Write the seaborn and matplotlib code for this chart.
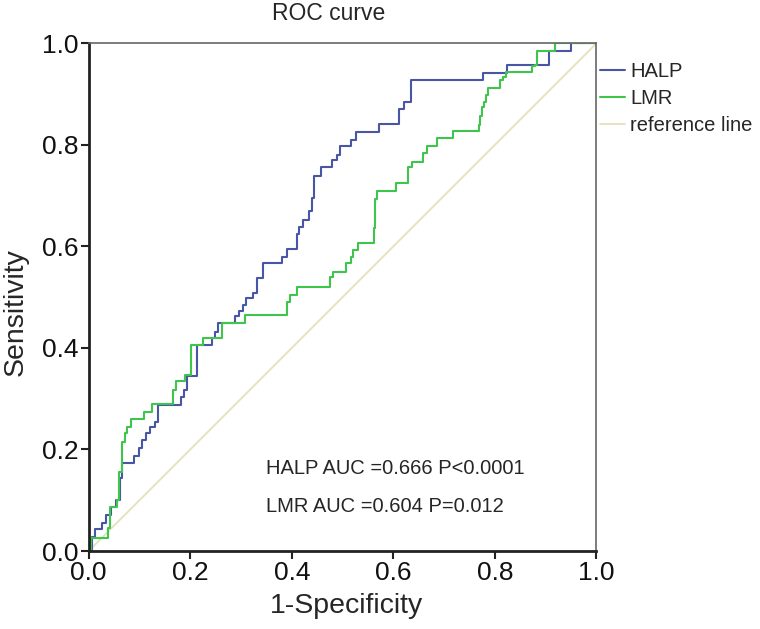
import pandas as pd
import seaborn as sns
import matplotlib.pyplot as plt

# ROC curve points (step curves)
halp_fpr = [0, 0.006, 0.012, 0.026, 0.035, 0.044, 0.054, 0.062, 0.066, 0.090, 0.099,
            0.105, 0.112, 0.121, 0.131, 0.136, 0.182, 0.188, 0.193, 0.213, 0.242,
            0.249, 0.255, 0.288, 0.297, 0.303, 0.310, 0.323, 0.331, 0.344, 0.380,
            0.391, 0.410, 0.415, 0.422, 0.433, 0.439, 0.444, 0.457, 0.480, 0.490,
            0.495, 0.516, 0.527, 0.571, 0.611, 0.621, 0.635, 0.776, 0.824, 0.907,
            0.950, 1.0]
halp_tpr = [0, 0.028, 0.043, 0.056, 0.071, 0.087, 0.100, 0.144, 0.173, 0.187, 0.203,
            0.219, 0.233, 0.245, 0.255, 0.288, 0.303, 0.317, 0.345, 0.406, 0.419,
            0.432, 0.449, 0.462, 0.473, 0.485, 0.499, 0.508, 0.537, 0.567, 0.580,
            0.594, 0.625, 0.639, 0.652, 0.669, 0.695, 0.738, 0.756, 0.770, 0.780,
            0.797, 0.810, 0.826, 0.841, 0.870, 0.885, 0.928, 0.942, 0.958, 0.986,
            1.0, 1.0]

lmr_fpr = [0, 0.0055, 0.038, 0.042, 0.055, 0.060, 0.065, 0.072, 0.075, 0.083, 0.108,
           0.124, 0.166, 0.172, 0.190, 0.202, 0.226, 0.262, 0.308, 0.391, 0.397,
           0.410, 0.475, 0.482, 0.507, 0.516, 0.521, 0.531, 0.561, 0.564, 0.568,
           0.606, 0.629, 0.636, 0.659, 0.666, 0.686, 0.718, 0.768, 0.771, 0.774,
           0.778, 0.783, 0.787, 0.810, 0.817, 0.822, 0.873, 0.879, 0.883, 0.919, 1.0]
lmr_tpr = [0, 0.026, 0.045, 0.087, 0.100, 0.156, 0.215, 0.232, 0.245, 0.261, 0.274,
           0.290, 0.317, 0.334, 0.347, 0.405, 0.419, 0.449, 0.465, 0.491, 0.504,
           0.521, 0.540, 0.550, 0.567, 0.580, 0.593, 0.607, 0.636, 0.694, 0.709,
           0.725, 0.756, 0.767, 0.784, 0.797, 0.813, 0.828, 0.839, 0.856, 0.875,
           0.885, 0.899, 0.912, 0.928, 0.933, 0.943, 0.956, 0.958, 0.985, 1.0, 1.0]

ref_x = [0, 1]
ref_y = [0, 1]

labels = ['HALP', 'LMR', 'reference line']
colors = ['#4757a6', '#3fc44c', '#e2e2bd']
auc_text = ['HALP AUC =0.666 P<0.0001', 'LMR AUC =0.604 P=0.012']
ticks = [0, 0.2, 0.4, 0.6, 0.8, 1.0]
tick_labels = ['0.0', '0.2', '0.4', '0.6', '0.8', '1.0']

df = pd.concat([
    pd.DataFrame({'fpr': halp_fpr, 'tpr': halp_tpr, 'curve': 'HALP'}),
    pd.DataFrame({'fpr': lmr_fpr, 'tpr': lmr_tpr, 'curve': 'LMR'}),
])

sns.set_style('white')
plt.rcParams['font.family'] = ['Liberation Sans', 'DejaVu Sans']

fig = plt.figure(figsize=(7.6, 6.29), dpi=100)
ax = fig.add_axes([0.1167, 0.124, 0.668, 0.807])

sns.lineplot(x=ref_x, y=ref_y, ax=ax, color=colors[2], linewidth=1.3,
             label=labels[2], zorder=1)
for name, col in zip(labels[:2], colors[:2]):
    sub = df[df['curve'] == name]
    sns.lineplot(data=sub, x='fpr', y='tpr', ax=ax, color=col, linewidth=1.5,
                 sort=False, estimator=None, drawstyle='steps-post', label=name,
                 zorder=2)

ax.set_xlim(0, 1)
ax.set_ylim(0, 1)
ax.set_xticks(ticks)
ax.set_yticks(ticks)
ax.set_xticklabels(tick_labels)
ax.set_yticklabels(tick_labels)
ax.tick_params(axis='both', direction='out', length=6, width=1.5, labelsize=19,
               color='#222222', labelcolor='#111111', left=True, bottom=True)
ax.tick_params(axis='x', pad=1)
ax.tick_params(axis='y', pad=1)

for side in ['left', 'bottom']:
    ax.spines[side].set_color('#222222')
    ax.spines[side].set_linewidth(2)
for side in ['top', 'right']:
    ax.spines[side].set_color('#666666')
    ax.spines[side].set_linewidth(1.2)

ax.set_xlabel('1-Specificity', fontsize=20.5)
ax.set_ylabel('Sensitivity', fontsize=20.5)
ax.xaxis.set_label_coords(0.507, -0.082)
ax.yaxis.set_label_coords(-0.118, 0.471)
fig.text(329 / 760, 1 - 13 / 629, 'ROC curve', fontsize=16.5, ha='center', va='center')

ax.text(0.35, 0.162, auc_text[0], fontsize=14.5, transform=ax.transAxes, va='center')
ax.text(0.35, 0.088, auc_text[1], fontsize=14.5, transform=ax.transAxes, va='center')

handles, lbls = ax.get_legend_handles_labels()
order = [lbls.index(l) for l in labels]
ax.legend([handles[i] for i in order], [lbls[i] for i in order],
          loc='upper left', bbox_to_anchor=(1.0075, 0.963), frameon=False,
          fontsize=14.5, handlelength=1.25, handletextpad=0.25, labelspacing=0.4,
          borderaxespad=0, borderpad=0)

fig.savefig('out.png', dpi=100)
